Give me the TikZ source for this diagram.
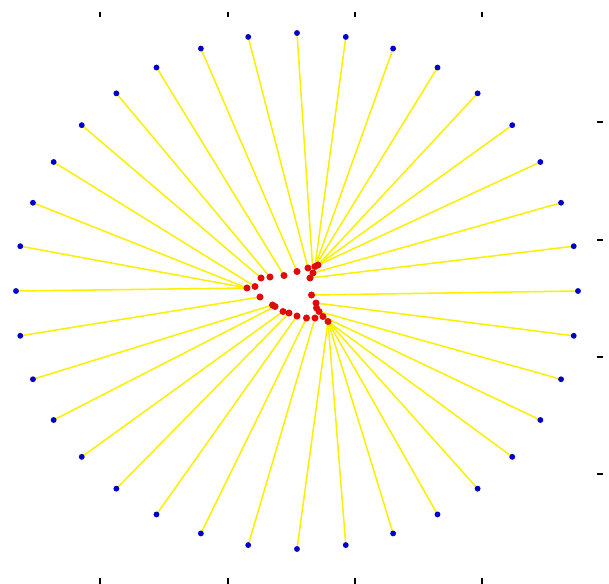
\documentclass[tikz,border=0pt]{standalone}
\usepackage{xcolor}
\usepackage{tikz}
\usetikzlibrary{backgrounds}
\definecolor{myblue}{RGB}{0,0,200}
\definecolor{myred}{RGB}{222,12,12}
\definecolor{myyellow}{RGB}{250,240,0}
\tikzset{
  bluedot/.style={circle, fill=myblue, inner sep=0pt, minimum size=5pt},
  reddot/.style={circle, fill=myred, inner sep=0pt, minimum size=6pt},
  spoke/.style={color=myyellow, line width=1.3pt},
  tickmark/.style={black, line width=1pt}
}

\begin{document}
\begin{tikzpicture}[x=0.03cm, y=-0.03cm]
  \useasboundingbox (0,0) rectangle (609,584);
  % Blue points on the outer ellipse
  \foreach \k in {0,...,35}
    \node[bluedot] (b\k) at ({297+281*sin(10*\k)},{291-258*cos(10*\k)}) {};
  % Red points of the inner curve
  \foreach \x/\y [count=\i] in {247/288, 255/286.5, 261/278, 270/277, 284/275.5, 297/271.5,
      308/268, 313/273, 315/266.5, 318/265, 310/278, 311.5/295, 316/303, 316.5/308,
      319/311.5, 323/316.5, 328/321.5, 315/318, 306.5/318, 297/316, 289/313, 283/311.5,
      275/306.5, 272.5/305, 260/297}
    \node[reddot] (r\i) at (\x,\y) {};
  % Yellow links, behind the points
  \begin{scope}[on background layer]
    \foreach \k/\j in {0/8, 1/9, 2/9, 3/9, 4/10, 5/10, 6/9, 7/8, 8/11, 9/12, 10/13, 11/15,
        12/16, 13/17, 14/17, 15/17, 16/17, 17/17, 18/17, 19/18, 20/19, 21/20, 22/21, 23/22,
        24/23, 25/24, 26/25, 27/1, 28/1, 29/1, 30/2, 31/3, 32/4, 33/5, 34/6, 35/7}
      \draw[spoke] (b\k.center) -- (r\j.center);
  \end{scope}
  % Axis ticks
  \foreach \x in {100,228,355,482} {
    \draw[tickmark] (\x,12) -- (\x,17);
    \draw[tickmark] (\x,578) -- (\x,584);
  }
  \foreach \y in {122,240,357,474}
    \draw[tickmark] (597,\y) -- (603,\y);
\end{tikzpicture}
\end{document}
